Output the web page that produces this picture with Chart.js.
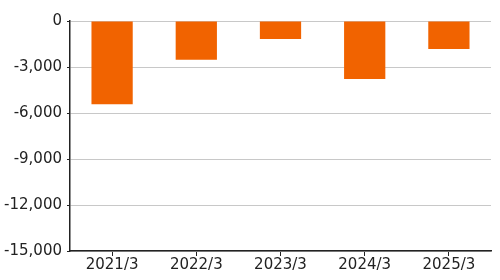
<!DOCTYPE html>
<html>
<head>
<meta charset="utf-8">
<script src="https://cdn.jsdelivr.net/npm/chart.js@4"></script>
<style>
  html, body { margin: 0; padding: 0; background: #fff; }
  canvas { display: block; }
</style>
</head>
<body>
<canvas id="chart" width="500" height="280"></canvas>
<script>
// fiscal years and values
const years = ['2021/3', '2022/3', '2023/3', '2024/3', '2025/3'];
const values = [-5430, -2520, -1170, -3780, -1830];
const yMin = -15000;
const yMax = 0;
const yStep = 3000;

Chart.defaults.font.family = '"DejaVu Sans", Verdana, sans-serif';
Chart.defaults.font.size = 15;
Chart.defaults.color = '#222';

new Chart(document.getElementById('chart').getContext('2d'), {
    type: 'bar',
    data: {
        labels: years,
        datasets: [{
            data: values,
            backgroundColor: '#f16300',
            borderWidth: 0,
            categoryPercentage: 1,
            barPercentage: 0.49,
        }],
    },
    options: {
        responsive: false,
        animation: false,
        layout: { padding: { top: 21, right: 9, left: 0, bottom: 6 } },
        plugins: { legend: { display: false }, tooltip: { enabled: false } },
        scales: {
            x: {
                grid: { display: true, drawOnChartArea: false, offset: false, tickLength: 5, tickColor: '#222' },
                border: { color: '#222', width: 1.5 },
                ticks: { padding: 0, maxRotation: 0 },
            },
            y: {
                min: yMin,
                max: yMax,
                afterFit: (scale) => { scale.width = 70; },
                grid: { color: '#c8c8c8', tickLength: 3, tickColor: '#222' },
                border: { color: '#222', width: 1.5 },
                ticks: {
                    stepSize: yStep,
                    padding: 5,
                    callback: (v) => v.toLocaleString('en-US'),
                },
            },
        },
    },
});
</script>
</body>
</html>
